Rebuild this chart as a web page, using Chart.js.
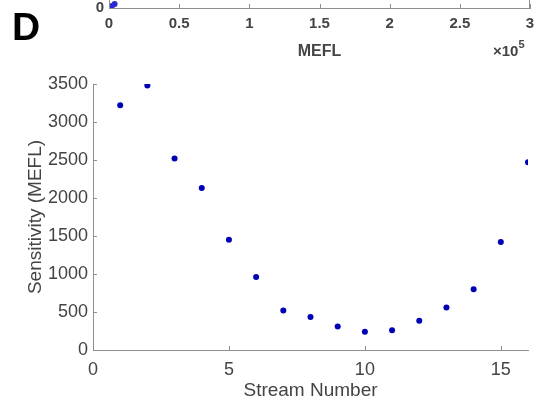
<!DOCTYPE html>
<html>
<head>
<meta charset="utf-8">
<script src="https://cdn.jsdelivr.net/npm/chart.js@4.4.1/dist/chart.umd.min.js"></script>
<style>
  html, body { margin: 0; padding: 0; background: #fff; }
  #wrap { position: relative; width: 534px; height: 404px; overflow: hidden; }
  #main { position: absolute; left: 0; top: 0; }
  #topBox { position: absolute; left: 0; top: 0; width: 534px; height: 70px; overflow: hidden; }
  #top { position: absolute; left: 0; top: -328px; }
  #panel { position: absolute; left: 12px; top: 5px; font: bold 39px "Liberation Sans", Arial, sans-serif; color: #000; }
</style>
</head>
<body>
<div id="wrap">
  <canvas id="main" width="534" height="404"></canvas>
  <div id="topBox"><canvas id="top" width="534" height="400"></canvas></div>
  <div id="panel">D</div>
</div>
<script>
// ---- Data (panel D) ----
const streamNumbers = [1, 2, 3, 4, 5, 6, 7, 8, 9, 10, 11, 12, 13, 14, 15, 16];
const sensitivityMEFL = [3220, 3480, 2520, 2130, 1450, 960, 520, 435, 310, 240, 260, 385, 560, 800, 1420, 2470];
const xTickValues = [0, 5, 10, 15];
const yTickValues = [0, 500, 1000, 1500, 2000, 2500, 3000, 3500];

// ---- Fragment of the panel above (only its bottom is visible) ----
const topMEFL = [500, 2000, 4000];
const topValues = [300, 1800, 3800];
const topXTicks = [0, 50000, 100000, 150000, 200000, 250000, 300000];

const AXIS = '#8f8f8f';
const TEXT = '#444444';
const FONT = '"Liberation Sans", Arial, sans-serif';

const inwardTicks = {
  id: 'inwardTicks',
  afterDraw(chart, args, opts) {
    const ctx = chart.ctx, a = chart.chartArea;
    const xs = chart.scales.x, ys = chart.scales.y;
    ctx.save();
    ctx.strokeStyle = AXIS; ctx.lineWidth = 1;
    ctx.beginPath();
    xs.ticks.forEach(t => { const p = Math.round(xs.getPixelForValue(t.value)) + 0.5; ctx.moveTo(p, a.bottom); ctx.lineTo(p, a.bottom - 4); });
    ys.ticks.forEach(t => { const p = Math.round(ys.getPixelForValue(t.value)) + 0.5; ctx.moveTo(a.left, p); ctx.lineTo(a.left + 4, p); });
    if (opts.rightBorder) { ctx.moveTo(a.right - 0.5, a.top); ctx.lineTo(a.right - 0.5, a.bottom); }
    ctx.stroke();
    if (opts.exponent) {
      ctx.fillStyle = TEXT;
      ctx.textBaseline = 'alphabetic';
      ctx.font = 'bold 15px ' + FONT;
      const x0 = a.right - 37, y0 = a.bottom + 48;
      ctx.fillText('\u00d710', x0, y0);
      const w = ctx.measureText('\u00d710').width;
      ctx.font = 'bold 11px ' + FONT;
      ctx.fillText('5', x0 + w, y0 - 8);
    }
    ctx.restore();
  }
};

new Chart(document.getElementById('main'), {
  type: 'scatter',
  data: {
    datasets: [{
      data: streamNumbers.map((s, i) => ({ x: s, y: sensitivityMEFL[i] })),
      backgroundColor: '#0000b4',
      borderColor: '#0000b4',
      pointRadius: 3,
      pointHoverRadius: 3,
      borderWidth: 0
    }]
  },
  options: {
    responsive: false,
    animation: false,
    events: [],
    layout: { padding: { top: 84, right: 6, left: 0, bottom: 0 } },
    plugins: { legend: { display: false }, tooltip: { enabled: false }, inwardTicks: {} },
    scales: {
      x: {
        type: 'linear', min: 0, max: 16,
        afterBuildTicks: s => { s.ticks = xTickValues.map(v => ({ value: v })); },
        afterFit: s => { s.height = 54; },
        grid: { display: false, drawTicks: false },
        border: { display: true, color: AXIS, width: 1 },
        ticks: { padding: 9, color: TEXT, font: { family: FONT, size: 18 }, maxRotation: 0, callback: v => String(v) },
        title: { display: true, text: 'Stream Number', color: TEXT, font: { family: FONT, size: 19 }, padding: { top: 0, bottom: 2 } }
      },
      y: {
        type: 'linear', min: 0, max: 3500,
        afterBuildTicks: s => { s.ticks = yTickValues.map(v => ({ value: v })); },
        afterFit: s => { s.width = 93; },
        grid: { display: false, drawTicks: false },
        border: { display: true, color: AXIS, width: 1 },
        ticks: { padding: 5, color: TEXT, font: { family: FONT, size: 18 }, callback: v => String(v) },
        title: { display: true, text: 'Sensitivity (MEFL)', color: TEXT, font: { family: FONT, size: 19 }, padding: { top: 24, bottom: 0 } }
      }
    }
  },
  plugins: [inwardTicks]
});

new Chart(document.getElementById('top'), {
  type: 'scatter',
  data: {
    datasets: [{
      data: topMEFL.map((m, i) => ({ x: m, y: topValues[i] })),
      backgroundColor: '#2a2ad0',
      borderColor: '#2a2ad0',
      pointRadius: 3,
      borderWidth: 0
    }]
  },
  options: {
    responsive: false,
    animation: false,
    events: [],
    layout: { padding: { top: 10, right: 2, left: 0, bottom: 0 } },
    plugins: { legend: { display: false }, tooltip: { enabled: false }, inwardTicks: { rightBorder: true, exponent: true } },
    scales: {
      x: {
        type: 'linear', min: 0, max: 300000,
        afterBuildTicks: s => { s.ticks = topXTicks.map(v => ({ value: v })); },
        afterFit: s => { s.height = 64; s.paddingRight = 0; s.paddingLeft = 0; },
        grid: { display: false, drawTicks: false },
        border: { display: true, color: AXIS, width: 1 },
        ticks: { padding: 7, color: TEXT, font: { family: FONT, size: 15, weight: 'bold' }, maxRotation: 0,
                 callback: v => String(v / 100000) },
        title: { display: true, text: 'MEFL', color: TEXT, font: { family: FONT, size: 16, weight: 'bold' }, padding: { top: 2, bottom: 11 } }
      },
      y: {
        type: 'linear', min: 0, max: 300000,
        afterBuildTicks: s => { s.ticks = [{ value: 0 }]; },
        afterFit: s => { s.width = 109; },
        grid: { display: false, drawTicks: false },
        border: { display: true, color: AXIS, width: 1 },
        ticks: { padding: 5, color: TEXT, font: { family: FONT, size: 15, weight: 'bold' } }
      }
    }
  },
  plugins: [inwardTicks]
});
</script>
</body>
</html>
